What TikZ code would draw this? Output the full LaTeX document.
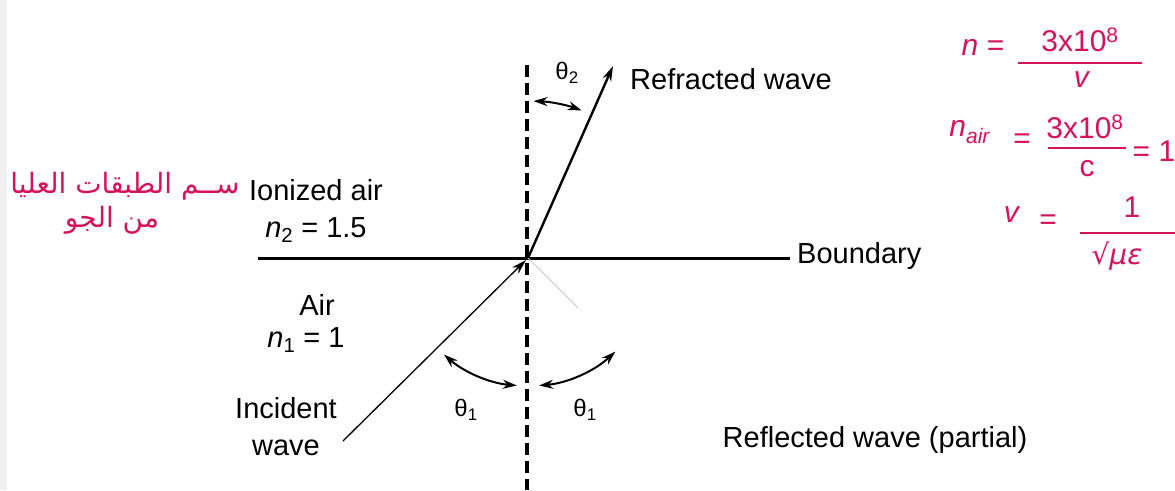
\documentclass[tikz,border=0pt]{standalone}
\usepackage{fontspec}
\setmainfont{Liberation Sans}
\newfontfamily\arabicfont[Script=Arabic]{DejaVu Sans}
\newfontfamily\dejavu{DejaVu Sans}
\TeXXeTstate=1
\usetikzlibrary{arrows.meta}
\definecolor{ink}{HTML}{D4145A}
\begin{document}
\begin{tikzpicture}[x=1pt,y=1pt,
  lbl/.style={font=\fontsize{29}{37}\selectfont, inner sep=0pt},
  ang/.style={font=\fontsize{24}{28}\selectfont, inner sep=0pt},
  hand/.style={text=ink, inner sep=0pt, font=\fontsize{30}{34}\selectfont},
  tipa/.style={-{Stealth[length=15pt,width=9pt]}},
  dbl/.style={{Stealth[length=14pt,width=9pt]}-{Stealth[length=14pt,width=9pt]}, line width=2pt},
  bar/.style={ink, line width=1.8pt}
]
\useasboundingbox (0,-490) rectangle (1175,0);
\fill[gray!12] (0,-490) rectangle (7,0);
\coordinate (O) at (528,-258);
\coordinate (Ntop) at (527,-65);
\coordinate (Nbot) at (527,-490);
\draw[line width=3.2pt, dash pattern=on 12pt off 6pt] (Ntop) -- (Nbot);
% boundary
\coordinate (Bl) at (258,-258);
\node[lbl, anchor=west] (bnd) at (797,-256) {Boundary};
\draw[line width=3pt] (Bl) -- ([xshift=-7pt]bnd.west |- O);
% refracted
\coordinate (R) at (613,-66);
\draw[line width=2.4pt, tipa] (O) -- (R);
\node[lbl, anchor=west] (refr) at (630,-79) {Refracted wave};
% incident
\coordinate (I) at (343,-441);
\draw[line width=1.3pt, tipa, shorten >=3pt] (I) -- (O);
% reflected (faint)
\coordinate (F) at (578,-308);
\draw[gray!45, line width=1pt] (O) -- (F);
% angles
\draw[dbl] ([shift={(88:157)}]O) arc[start angle=88, end angle=70, radius=157];
\draw[dbl] ([shift={(265:128)}]O) arc[start angle=265, end angle=229, radius=128];
\draw[dbl] ([shift={(275:128)}]O) arc[start angle=275, end angle=313, radius=128];
\node[ang] (t2) at (567,-73) {θ\textsubscript{2}};
\node[ang] (t1l) at (466,-410) {θ\textsubscript{1}};
\node[ang] (t1r) at (585,-410) {θ\textsubscript{1}};
% media labels
\node[lbl] (ion) at (316,-190) {Ionized air};
\node[lbl] (n2) at (316,-230) {\textit{n}\textsubscript{2} = 1.5};
\node[lbl] (air) at (317,-305) {Air};
\node[lbl] (n1) at (306,-340) {\textit{n}\textsubscript{1} = 1};
\node[lbl, align=center] (inc) at (286,-427) {Incident\\wave};
\node[lbl] (refl) at (875,-440) {Reflected wave (partial)};
% arabic notes
\node[hand, font=\arabicfont\fontsize{28}{32}\selectfont] (ar1) at (125,-186) {\beginR ســم الطبقات العليا\endR};
\node[hand, font=\arabicfont\fontsize{28}{32}\selectfont] (ar2) at (112,-220) {\beginR من الجو\endR};
% formula 1
\node[hand] (f1l) at (983,-47) {\textit{n} =};
\node[hand] (f1n) at (1080,-40) {3x10\textsuperscript{8}};
\draw[bar] (1018,-63) -- (1142,-63);
\node[hand] (f1d) at (1082,-80) {\textit{v}};
% formula 2
\node[hand] (f2l) at (970,-132) {\textit{n}\textsubscript{\textit{air}}};
\node[hand] (f2e) at (1022,-141) {=};
\node[hand] (f2n) at (1085,-127) {3x10\textsuperscript{8}};
\draw[bar] (1048,-148) -- (1126,-148);
\node[hand] (f2d) at (1087,-169) {c};
\node[hand] (f2r) at (1154,-151) {= 1};
% formula 3
\node[hand] (f3l) at (1012,-215) {\textit{v}};
\node[hand] (f3e) at (1048,-222) {=};
\node[hand] (f3n) at (1132,-207) {1};
\draw[bar] (1080,-233) -- (1175,-233);
\node[hand, font=\dejavu\fontsize{28}{32}\selectfont] (f3d) at (1117,-256) {√\textit{με}};
\end{tikzpicture}
\end{document}
